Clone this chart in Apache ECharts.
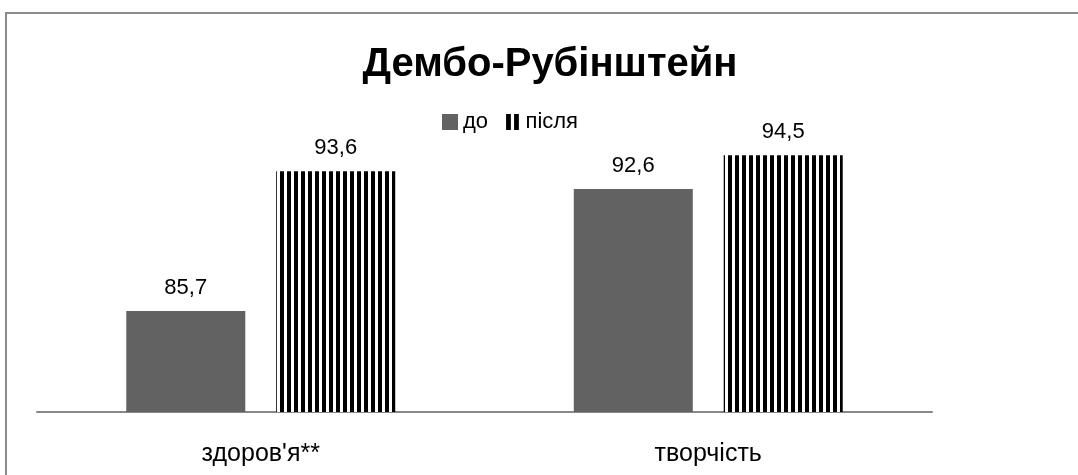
<!DOCTYPE html>
<html>
<head>
<meta charset="utf-8">
<script src="https://cdn.jsdelivr.net/npm/echarts@6/dist/echarts.min.js"></script>
<style>
  html, body { margin: 0; padding: 0; background: #fff; }
  #chart { width: 1078px; height: 475px; }
</style>
</head>
<body>
<div id="chart"></div>
<script>
// Scale categories and the two measurement rounds
const categories = ["здоров'я**", 'творчість'];
const seriesBefore = [85.7, 92.6];
const seriesAfter = [93.6, 94.5];
const seriesNames = ['до', 'після'];

const FONT = "'Liberation Sans Narrow', 'Liberation Sans', Arial, sans-serif";

// Vertical-stripe fill for the second series
function stripePattern() {
  const c = document.createElement('canvas');
  c.width = 7; c.height = 4;
  const ctx = c.getContext('2d');
  ctx.fillStyle = '#ffffff';
  ctx.fillRect(0, 0, 7, 4);
  ctx.fillStyle = '#000000';
  ctx.fillRect(0, 0, 4, 4);
  return c;
}

const stripes = { image: stripePattern(), repeat: 'repeat' };
const fmt = p => String(p.value).replace('.', ',');

const chart = echarts.init(document.getElementById('chart'), null, { renderer: 'canvas' });
chart.setOption({
  animation: false,
  backgroundColor: '#ffffff',
  graphic: [{
    type: 'rect',
    shape: { x: 6, y: 13, width: 1200, height: 600 },
    style: { fill: 'none', stroke: '#8c8c8c', lineWidth: 2 },
    silent: true
  }],
  title: {
    text: 'Дембо-Рубінштейн',
    left: 545, top: 40,
    textAlign: 'center',
    textStyle: { fontFamily: FONT, fontWeight: 'bold', fontSize: 40, color: '#000' }
  },
  legend: {
    top: 106, left: 437,
    itemWidth: 16, itemHeight: 16, itemGap: 18,
    textStyle: { fontFamily: FONT, fontSize: 22, color: '#000', padding: [0, 0, 0, 0] },
    data: [
      { name: seriesNames[0], icon: 'rect' },
      { name: seriesNames[1], icon: 'path://M0,0h3v10h-3zM5,0h3v10h-3z', itemStyle: { color: '#000' } }
    ]
  },
  grid: { left: 37, right: 146, top: 58, bottom: 63, containLabel: false },
  xAxis: {
    type: 'category',
    data: categories,
    axisLine: { lineStyle: { color: '#888888', width: 2 } },
    axisTick: { show: false },
    axisLabel: { fontFamily: FONT, fontSize: 25, color: '#000', margin: 30 }
  },
  yAxis: {
    type: 'value',
    min: 80, max: 100,
    show: false,
    splitLine: { show: false }
  },
  series: [
    {
      name: seriesNames[0], type: 'bar',
      data: seriesBefore,
      barWidth: 119, barGap: '26%',
      itemStyle: { color: '#626262' },
      label: { show: true, position: 'top', distance: 12, formatter: fmt,
               fontFamily: FONT, fontSize: 22, color: '#000' }
    },
    {
      name: seriesNames[1], type: 'bar',
      data: seriesAfter,
      barWidth: 119, barGap: '26%',
      itemStyle: { color: stripes },
      label: { show: true, position: 'top', distance: 12, formatter: fmt,
               fontFamily: FONT, fontSize: 22, color: '#000' }
    }
  ]
});
</script>
</body>
</html>
